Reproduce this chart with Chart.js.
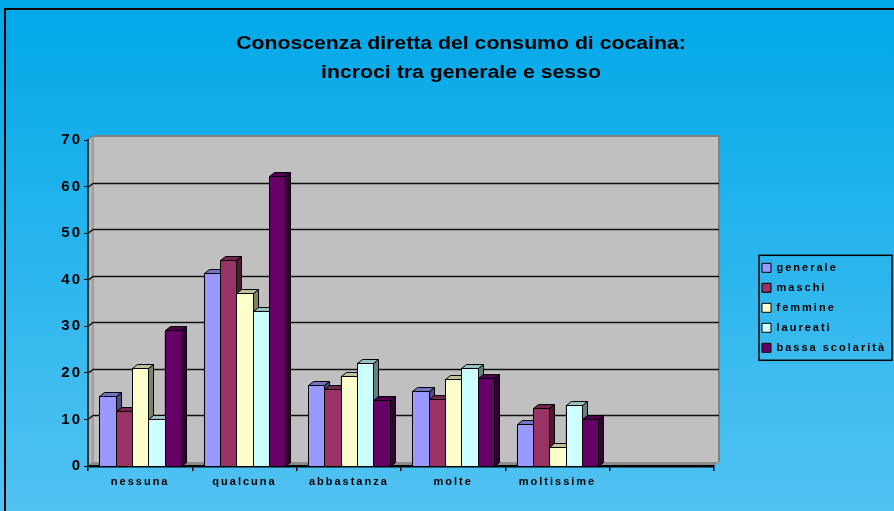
<!DOCTYPE html>
<html>
<head>
<meta charset="utf-8">
<script src="https://cdn.jsdelivr.net/npm/chart.js@4.4.1/dist/chart.umd.min.js"></script>
<style>
    html, body { margin: 0; padding: 0; }
    #contenitore { width: 894px; height: 511px; }
</style>
</head>
<body>
<div id="contenitore"><canvas id="cocaina-grafico"></canvas></div>
<script>
const titolo = ['Conoscenza diretta del consumo di cocaina:', 'incroci tra generale e sesso'];
const categorie = ['nessuna', 'qualcuna', 'abbastanza', 'molte', 'moltissime', ''];
const serie = ['generale', 'maschi', 'femmine', 'laureati', 'bassa scolarità'];
const generale = [15, 41.5, 17.4, 16.2, 9, null];
const maschi = [11.8, 44.2, 16.5, 14.3, 12.5, null];
const femmine = [21, 37.1, 19.4, 18.7, 4.1, null];
const laureati = [10.1, 33.3, 22.2, 21.1, 13.1, null];
const bassaScolarita = [29.1, 62.2, 14.1, 19, 10.1, null];
const colori = ['#9999FF', '#993366', '#FFFFCC', '#CCFFFF', '#660066'];

const DX = 5;   // profondità 3D
const DY = -4;

function scurisci(hex, f) {
    const n = parseInt(hex.slice(1), 16);
    const r = Math.round(((n >> 16) & 255) * f);
    const g = Math.round(((n >> 8) & 255) * f);
    const b = Math.round((n & 255) * f);
    return `rgb(${r},${g},${b})`;
}

// sfondo, cornice, titolo e pareti 3D
const sfondo = {
    id: 'sfondo',
    beforeLayout(chart) {
        chart.ctx.letterSpacing = '2px';
    },
    beforeDraw(chart) {
        const { ctx, width, height, chartArea: { left, right, top, bottom }, scales: { y } } = chart;
        ctx.save();
        ctx.letterSpacing = '0px';
        const g = ctx.createLinearGradient(0, 0, 0, height);
        g.addColorStop(0, '#00A8E8');
        g.addColorStop(1, '#52C2F2');
        ctx.fillStyle = g;
        ctx.fillRect(0, 0, width, height);

        ctx.strokeStyle = '#000';
        ctx.lineWidth = 2;
        ctx.strokeRect(5, 9, width + 10, height + 10);

        // titolo (un po' allargato come nell'originale)
        ctx.fillStyle = '#000';
        ctx.font = 'bold 18px "Liberation Sans", Arial, sans-serif';
        ctx.textAlign = 'center';
        ctx.textBaseline = 'middle';
        [44, 73].forEach((yy, i) => {
            ctx.save();
            ctx.translate(461, yy);
            ctx.scale(1.18, 1);
            ctx.fillText(titolo[i], 0, 0);
            ctx.restore();
        });

        // parete di fondo
        ctx.fillStyle = '#C0C0C0';
        ctx.fillRect(left + DX, top + DY, right - left, bottom - top);
        ctx.strokeStyle = '#808080';
        ctx.lineWidth = 2;
        ctx.beginPath();
        ctx.moveTo(left + DX, top + DY);
        ctx.lineTo(right + DX, top + DY);
        ctx.lineTo(right + DX, bottom + DY);
        ctx.stroke();

        // parete sinistra
        ctx.fillStyle = '#B4B4B4';
        ctx.beginPath();
        ctx.moveTo(left, top);
        ctx.lineTo(left + DX, top + DY);
        ctx.lineTo(left + DX, bottom + DY);
        ctx.lineTo(left, bottom);
        ctx.closePath();
        ctx.fill();
        ctx.lineWidth = 1;
        ctx.strokeStyle = '#808080';
        ctx.stroke();

        // pavimento
        ctx.fillStyle = '#8C8C8C';
        ctx.beginPath();
        ctx.moveTo(left, bottom);
        ctx.lineTo(left + DX, bottom + DY);
        ctx.lineTo(right + DX, bottom + DY);
        ctx.lineTo(right, bottom);
        ctx.closePath();
        ctx.fill();

        // griglia sulla parete di fondo
        ctx.strokeStyle = '#111';
        ctx.lineWidth = 1.5;
        y.ticks.forEach(t => {
            if (t.value === 0 || t.value === y.max) return;
            const yy = Math.round(y.getPixelForValue(t.value)) + 0.5;
            ctx.beginPath();
            ctx.moveTo(left, yy);
            ctx.lineTo(left + DX, yy + DY);
            ctx.lineTo(right + DX, yy + DY);
            ctx.stroke();
        });
        ctx.restore();
        ctx.letterSpacing = '2px';
    },
    afterDraw(chart) {
        const { ctx, legend } = chart;
        const hb = legend.legendHitBoxes;
        if (!hb || !hb.length) return;
        const ultimo = hb[hb.length - 1];
        ctx.save();
        ctx.strokeStyle = '#000';
        ctx.lineWidth = 1.5;
        const x0 = hb[0].left - 3;
        const y0 = hb[0].top - 7;
        ctx.strokeRect(x0, y0, 892 - x0, ultimo.top + ultimo.height + 7 - y0);
        ctx.restore();
    }
};

// facce laterali e superiori delle colonne
const barre3d = {
    id: 'barre3d',
    afterDatasetsDraw(chart) {
        const ctx = chart.ctx;
        ctx.save();
        ctx.strokeStyle = '#000';
        ctx.lineWidth = 1;
        ctx.lineJoin = 'miter';
        chart.data.datasets.forEach((ds, i) => {
            const meta = chart.getDatasetMeta(i);
            meta.data.forEach((barra, j) => {
                if (ds.data[j] == null) return;
                const { x, y, base, width } = barra.getProps(['x', 'y', 'base', 'width'], true);
                const l = Math.round(x - width / 2) + 0.5;
                const r = Math.round(x + width / 2) + 0.5;
                const t = Math.round(y) + 0.5;
                const b = Math.round(base) + 0.5;

                ctx.fillStyle = scurisci(colori[i], 0.5);
                ctx.beginPath();
                ctx.moveTo(r, t);
                ctx.lineTo(r + DX, t + DY);
                ctx.lineTo(r + DX, b + DY);
                ctx.lineTo(r, b);
                ctx.closePath();
                ctx.fill();
                ctx.stroke();

                ctx.fillStyle = scurisci(colori[i], 0.75);
                ctx.beginPath();
                ctx.moveTo(l, t);
                ctx.lineTo(l + DX, t + DY);
                ctx.lineTo(r + DX, t + DY);
                ctx.lineTo(r, t);
                ctx.closePath();
                ctx.fill();
                ctx.stroke();

                ctx.fillStyle = colori[i];
                ctx.fillRect(l, t, r - l, b - t);
                ctx.strokeRect(l, t, r - l, b - t);
            });
        });
        ctx.restore();
    }
};

const valori = [generale, maschi, femmine, laureati, bassaScolarita];

new Chart(document.getElementById('cocaina-grafico').getContext('2d'), {
    type: 'bar',
    plugins: [sfondo, barre3d],
    data: {
        labels: categorie,
        datasets: serie.map((nome, i) => ({
            label: nome,
            data: valori[i],
            backgroundColor: colori[i],
            borderColor: '#000',
            borderWidth: 1,
            borderSkipped: false,
            barPercentage: 1,
            categoryPercentage: 0.78
        }))
    },
    options: {
        responsive: true,
        maintainAspectRatio: false,
        devicePixelRatio: 1,
        animation: false,
        layout: { padding: { top: 140, left: 0, right: -2, bottom: 0 } },
        font: { family: '"Liberation Sans", Arial, sans-serif' },
        plugins: {
            title: { display: false },
            tooltip: { enabled: false },
            legend: {
                position: 'right',
                fullSize: false,
                title: { display: true, text: ' ', padding: 0, font: { size: 8 } },
                labels: {
                    color: '#000',
                    boxWidth: 9,
                    boxHeight: 9,
                    padding: 9,
                    font: { family: '"Liberation Sans", Arial, sans-serif', size: 11, weight: 'bold' }
                }
            }
        },
        scales: {
            x: {
                grid: { drawOnChartArea: false, color: '#000', tickLength: 5, lineWidth: 1.5 },
                border: { display: true, color: '#000', width: 2.5 },
                ticks: {
                    color: '#000',
                    padding: 4,
                    maxRotation: 0,
                    autoSkip: false,
                    font: { family: '"Liberation Sans", Arial, sans-serif', size: 11, weight: 'bold' }
                },
                afterFit(s) { s.height = 45; }
            },
            y: {
                min: 0,
                max: 70,
                ticks: {
                    stepSize: 10,
                    color: '#000',
                    padding: 2,
                    font: { family: '"Liberation Sans", Arial, sans-serif', size: 15, weight: 'bold' }
                },
                grid: { drawOnChartArea: false, color: '#000', tickLength: 4, lineWidth: 1 },
                border: { display: true, color: '#333', width: 2 },
                afterFit(s) { s.width = 88; }
            },
            margine: {
                position: 'right',
                display: true,
                grid: { display: false },
                border: { display: false },
                ticks: { display: false },
                afterFit(s) { s.width = 39; }
            }
        }
    }
});
</script>
</body>
</html>
